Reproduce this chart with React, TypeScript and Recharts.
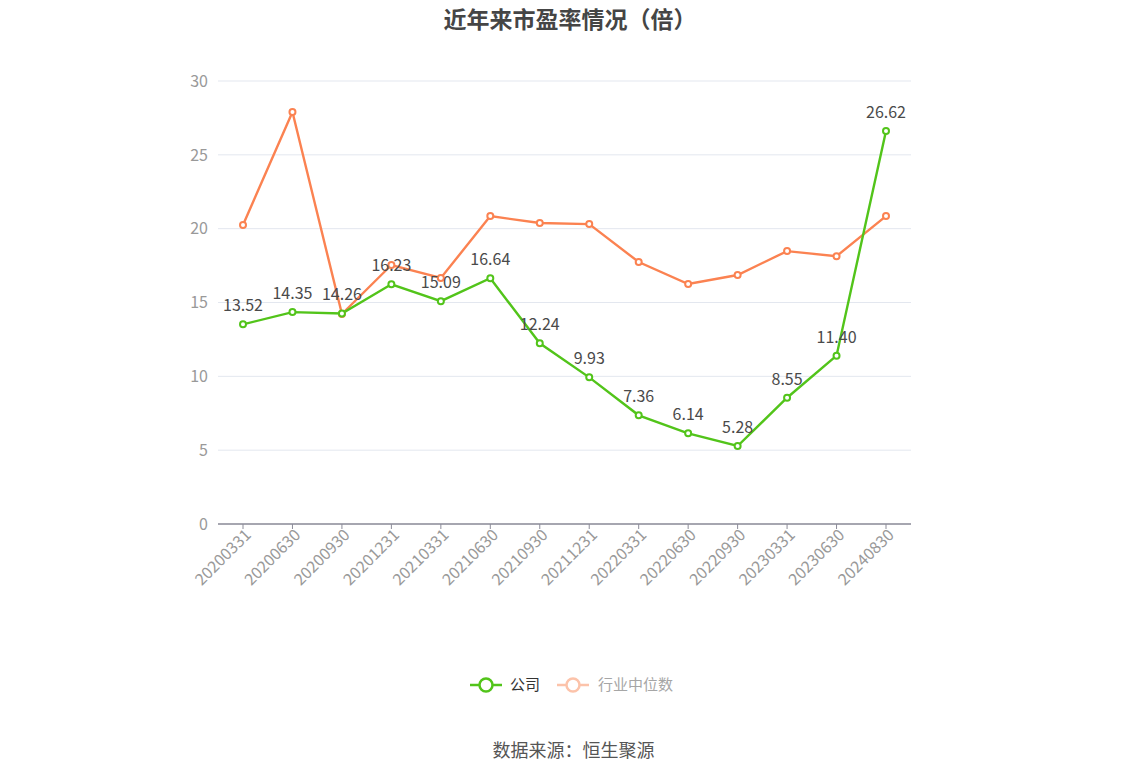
import { LineChart, Line, XAxis, YAxis, CartesianGrid, LabelList } from "recharts";

const periods = [
  "20200331", "20200630", "20200930", "20201231", "20210331", "20210630", "20210930",
  "20211231", "20220331", "20220630", "20220930", "20230331", "20230630", "20240830",
];
const companyPE = [13.52, 14.35, 14.26, 16.23, 15.09, 16.64, 12.24, 9.93, 7.36, 6.14, 5.28, 8.55, 11.4, 26.62];
const industryPE = [20.25, 27.9, 14.22, 17.54, 16.66, 20.85, 20.38, 20.31, 17.74, 16.25, 16.86, 18.48, 18.14, 20.85];
const yTicks = [0, 5, 10, 15, 20, 25, 30];

const data = periods.map((p, i) => ({ period: p, company: companyPE[i], industry: industryPE[i] }));

const FONT = '"Noto Sans CJK SC", "Noto Sans", sans-serif';
const GREEN = "#52c41a";
const ORANGE = "#fb8251";

function XTick({ x, y, payload }: any) {
  return (
    <text
      x={x + 5}
      y={y + 1}
      transform={`rotate(-45, ${x + 5}, ${y + 1})`}
      textAnchor="end"
      dy="0.35em"
      fill="#999"
      fontSize={16}
      fontFamily={FONT}
    >
      {payload.value}
    </text>
  );
}

export default function App() {
  return (
    <div style={{ position: "absolute", left: 0, top: 0, width: 1147, height: 776, background: "#fff", fontFamily: FONT }}>
      <div style={{ position: "absolute", top: 1, left: 0, width: 1140, textAlign: "center", fontSize: 23, fontWeight: 700, color: "#454545" }}>
        近年来市盈率情况（倍）
      </div>
      <LineChart width={1147} height={776} data={data} margin={{ top: 81, right: 236, bottom: 222, left: 0 }}>
        <CartesianGrid vertical={false} stroke="#e3e7ef" />
        <XAxis
          dataKey="period"
          interval={0}
          padding={{ left: 25, right: 25 }}
          tick={<XTick />}
          tickSize={5}
          stroke="#8c8c99"
          axisLine={{ stroke: "#8c8c99", strokeWidth: 1.5 }}
          tickLine={{ stroke: "#8c8c99" }}
          height={30}
        />
        <YAxis
          width={218}
          domain={[0, 30]}
          ticks={yTicks}
          axisLine={false}
          tickLine={false}
          tick={{ fill: "#999", fontSize: 16, fontFamily: FONT }}
          tickMargin={4}
        />
        <Line
          type="linear"
          dataKey="industry"
          stroke={ORANGE}
          strokeWidth={2.4}
          dot={{ r: 3, fill: "#fff", stroke: ORANGE, strokeWidth: 2 }}
          isAnimationActive={false}
        />
        <Line
          type="linear"
          dataKey="company"
          stroke={GREEN}
          strokeWidth={2.4}
          dot={{ r: 3, fill: "#fff", stroke: GREEN, strokeWidth: 2 }}
          isAnimationActive={false}
        >
          <LabelList
            dataKey="company"
            position="top"
            offset={13}
            formatter={(v: any) => Number(v).toFixed(2)}
            style={{ fill: "#4a4a4a", fontSize: 16, fontFamily: FONT }}
          />
        </Line>
      </LineChart>
      <svg style={{ position: "absolute", left: 0, top: 670 }} width={1147} height={30}>
        <line x1={470} y1={15} x2={502} y2={15} stroke={GREEN} strokeWidth={2.5} />
        <circle cx={486} cy={15} r={6.5} fill="#fff" stroke={GREEN} strokeWidth={2.5} />
        <text x={510} y={15} dy="0.35em" fontSize={15} fill="#333" fontFamily={FONT}>公司</text>
        <line x1={557} y1={15} x2={589} y2={15} stroke="#fcc3aa" strokeWidth={2.5} />
        <circle cx={573} cy={15} r={6.5} fill="#fff" stroke="#fcc3aa" strokeWidth={2.5} />
        <text x={598} y={15} dy="0.35em" fontSize={15} fill="#a6a6a6" fontFamily={FONT}>行业中位数</text>
      </svg>
      <div style={{ position: "absolute", top: 736, left: 0, width: 1147, textAlign: "center", fontSize: 18, color: "#555" }}>
        数据来源：恒生聚源
      </div>
    </div>
  );
}
